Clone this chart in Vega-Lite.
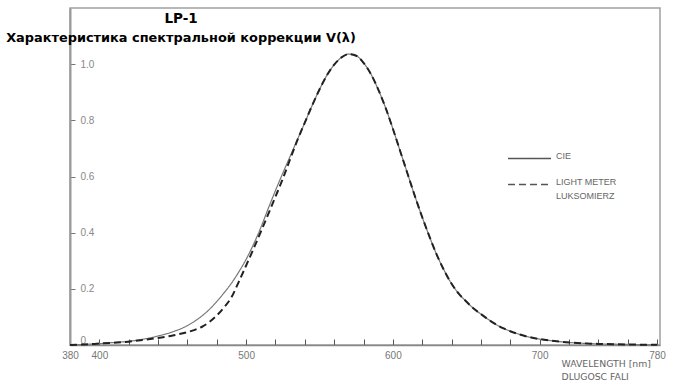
{
  "$schema": "https://vega.github.io/schema/vega-lite/v6.json",
  "width": 590,
  "height": 337,
  "autosize": {"type": "none"},
  "padding": {"left": 70, "top": 8, "right": 14, "bottom": 45},
  "background": "white",
  "config": {
    "view": {"stroke": "#a0a0a0", "strokeWidth": 1.5},
    "font": "Liberation Sans"
  },
  "title": {
    "text": "LP-1",
    "subtitle": "Характеристика спектральной коррекции V(λ)",
    "anchor": "middle",
    "dx": -184,
    "offset": -37,
    "font": "DejaVu Sans",
    "fontSize": 13.5,
    "fontWeight": "bold",
    "color": "black",
    "subtitleFont": "DejaVu Sans",
    "subtitleFontSize": 12.9,
    "subtitleFontWeight": "bold",
    "subtitleColor": "black",
    "subtitlePadding": 7
  },
  "data": {
    "values": [
      {"wl": 380, "v": 0, "series": "CIE"},
      {"wl": 390, "v": 0.002, "series": "CIE"},
      {"wl": 400, "v": 0.005, "series": "CIE"},
      {"wl": 410, "v": 0.009, "series": "CIE"},
      {"wl": 420, "v": 0.013, "series": "CIE"},
      {"wl": 430, "v": 0.021, "series": "CIE"},
      {"wl": 440, "v": 0.032, "series": "CIE"},
      {"wl": 450, "v": 0.047, "series": "CIE"},
      {"wl": 460, "v": 0.069, "series": "CIE"},
      {"wl": 465, "v": 0.085, "series": "CIE"},
      {"wl": 470, "v": 0.104, "series": "CIE"},
      {"wl": 475, "v": 0.127, "series": "CIE"},
      {"wl": 480, "v": 0.155, "series": "CIE"},
      {"wl": 485, "v": 0.186, "series": "CIE"},
      {"wl": 490, "v": 0.22, "series": "CIE"},
      {"wl": 495, "v": 0.26, "series": "CIE"},
      {"wl": 500, "v": 0.305, "series": "CIE"},
      {"wl": 505, "v": 0.358, "series": "CIE"},
      {"wl": 510, "v": 0.418, "series": "CIE"},
      {"wl": 515, "v": 0.485, "series": "CIE"},
      {"wl": 520, "v": 0.55, "series": "CIE"},
      {"wl": 525, "v": 0.612, "series": "CIE"},
      {"wl": 530, "v": 0.672, "series": "CIE"},
      {"wl": 535, "v": 0.732, "series": "CIE"},
      {"wl": 540, "v": 0.792, "series": "CIE"},
      {"wl": 545, "v": 0.853, "series": "CIE"},
      {"wl": 550, "v": 0.91, "series": "CIE"},
      {"wl": 555, "v": 0.96, "series": "CIE"},
      {"wl": 560, "v": 0.998, "series": "CIE"},
      {"wl": 565, "v": 1.024, "series": "CIE"},
      {"wl": 570, "v": 1.036, "series": "CIE"},
      {"wl": 575, "v": 1.03, "series": "CIE"},
      {"wl": 580, "v": 1.005, "series": "CIE"},
      {"wl": 585, "v": 0.965, "series": "CIE"},
      {"wl": 590, "v": 0.91, "series": "CIE"},
      {"wl": 595, "v": 0.845, "series": "CIE"},
      {"wl": 600, "v": 0.77, "series": "CIE"},
      {"wl": 605, "v": 0.69, "series": "CIE"},
      {"wl": 610, "v": 0.61, "series": "CIE"},
      {"wl": 615, "v": 0.53, "series": "CIE"},
      {"wl": 620, "v": 0.455, "series": "CIE"},
      {"wl": 625, "v": 0.385, "series": "CIE"},
      {"wl": 630, "v": 0.32, "series": "CIE"},
      {"wl": 635, "v": 0.265, "series": "CIE"},
      {"wl": 640, "v": 0.218, "series": "CIE"},
      {"wl": 645, "v": 0.182, "series": "CIE"},
      {"wl": 650, "v": 0.155, "series": "CIE"},
      {"wl": 655, "v": 0.13, "series": "CIE"},
      {"wl": 660, "v": 0.11, "series": "CIE"},
      {"wl": 665, "v": 0.091, "series": "CIE"},
      {"wl": 670, "v": 0.074, "series": "CIE"},
      {"wl": 675, "v": 0.06, "series": "CIE"},
      {"wl": 680, "v": 0.049, "series": "CIE"},
      {"wl": 685, "v": 0.04, "series": "CIE"},
      {"wl": 690, "v": 0.032, "series": "CIE"},
      {"wl": 700, "v": 0.021, "series": "CIE"},
      {"wl": 710, "v": 0.014, "series": "CIE"},
      {"wl": 720, "v": 0.009, "series": "CIE"},
      {"wl": 730, "v": 0.006, "series": "CIE"},
      {"wl": 740, "v": 0.004, "series": "CIE"},
      {"wl": 750, "v": 0.003, "series": "CIE"},
      {"wl": 760, "v": 0.002, "series": "CIE"},
      {"wl": 770, "v": 0.001, "series": "CIE"},
      {"wl": 780, "v": 0.0005, "series": "CIE"},
      {"wl": 380, "v": 0, "series": "LIGHT METER"},
      {"wl": 390, "v": 0.002, "series": "LIGHT METER"},
      {"wl": 400, "v": 0.005, "series": "LIGHT METER"},
      {"wl": 410, "v": 0.008, "series": "LIGHT METER"},
      {"wl": 420, "v": 0.012, "series": "LIGHT METER"},
      {"wl": 430, "v": 0.018, "series": "LIGHT METER"},
      {"wl": 440, "v": 0.025, "series": "LIGHT METER"},
      {"wl": 450, "v": 0.034, "series": "LIGHT METER"},
      {"wl": 460, "v": 0.046, "series": "LIGHT METER"},
      {"wl": 465, "v": 0.054, "series": "LIGHT METER"},
      {"wl": 470, "v": 0.065, "series": "LIGHT METER"},
      {"wl": 475, "v": 0.082, "series": "LIGHT METER"},
      {"wl": 480, "v": 0.105, "series": "LIGHT METER"},
      {"wl": 485, "v": 0.134, "series": "LIGHT METER"},
      {"wl": 490, "v": 0.17, "series": "LIGHT METER"},
      {"wl": 495, "v": 0.225, "series": "LIGHT METER"},
      {"wl": 500, "v": 0.283, "series": "LIGHT METER"},
      {"wl": 505, "v": 0.342, "series": "LIGHT METER"},
      {"wl": 510, "v": 0.403, "series": "LIGHT METER"},
      {"wl": 515, "v": 0.465, "series": "LIGHT METER"},
      {"wl": 520, "v": 0.528, "series": "LIGHT METER"},
      {"wl": 525, "v": 0.592, "series": "LIGHT METER"},
      {"wl": 530, "v": 0.662, "series": "LIGHT METER"},
      {"wl": 535, "v": 0.73, "series": "LIGHT METER"},
      {"wl": 540, "v": 0.792, "series": "LIGHT METER"},
      {"wl": 545, "v": 0.853, "series": "LIGHT METER"},
      {"wl": 550, "v": 0.91, "series": "LIGHT METER"},
      {"wl": 555, "v": 0.96, "series": "LIGHT METER"},
      {"wl": 560, "v": 0.998, "series": "LIGHT METER"},
      {"wl": 565, "v": 1.024, "series": "LIGHT METER"},
      {"wl": 570, "v": 1.036, "series": "LIGHT METER"},
      {"wl": 575, "v": 1.03, "series": "LIGHT METER"},
      {"wl": 580, "v": 1.005, "series": "LIGHT METER"},
      {"wl": 585, "v": 0.965, "series": "LIGHT METER"},
      {"wl": 590, "v": 0.91, "series": "LIGHT METER"},
      {"wl": 595, "v": 0.845, "series": "LIGHT METER"},
      {"wl": 600, "v": 0.77, "series": "LIGHT METER"},
      {"wl": 605, "v": 0.69, "series": "LIGHT METER"},
      {"wl": 610, "v": 0.61, "series": "LIGHT METER"},
      {"wl": 615, "v": 0.53, "series": "LIGHT METER"},
      {"wl": 620, "v": 0.455, "series": "LIGHT METER"},
      {"wl": 625, "v": 0.385, "series": "LIGHT METER"},
      {"wl": 630, "v": 0.32, "series": "LIGHT METER"},
      {"wl": 635, "v": 0.265, "series": "LIGHT METER"},
      {"wl": 640, "v": 0.218, "series": "LIGHT METER"},
      {"wl": 645, "v": 0.182, "series": "LIGHT METER"},
      {"wl": 650, "v": 0.155, "series": "LIGHT METER"},
      {"wl": 655, "v": 0.13, "series": "LIGHT METER"},
      {"wl": 660, "v": 0.11, "series": "LIGHT METER"},
      {"wl": 665, "v": 0.091, "series": "LIGHT METER"},
      {"wl": 670, "v": 0.074, "series": "LIGHT METER"},
      {"wl": 675, "v": 0.06, "series": "LIGHT METER"},
      {"wl": 680, "v": 0.049, "series": "LIGHT METER"},
      {"wl": 685, "v": 0.04, "series": "LIGHT METER"},
      {"wl": 690, "v": 0.032, "series": "LIGHT METER"},
      {"wl": 700, "v": 0.021, "series": "LIGHT METER"},
      {"wl": 710, "v": 0.014, "series": "LIGHT METER"},
      {"wl": 720, "v": 0.009, "series": "LIGHT METER"},
      {"wl": 730, "v": 0.006, "series": "LIGHT METER"},
      {"wl": 740, "v": 0.004, "series": "LIGHT METER"},
      {"wl": 750, "v": 0.003, "series": "LIGHT METER"},
      {"wl": 760, "v": 0.002, "series": "LIGHT METER"},
      {"wl": 770, "v": 0.001, "series": "LIGHT METER"},
      {"wl": 780, "v": 0.0005, "series": "LIGHT METER"}
    ]
  },
  "encoding": {
    "x": {
      "field": "wl",
      "type": "quantitative",
      "scale": {"domain": [380, 782], "nice": false, "zero": false},
      "axis": {
        "values": [380, 400, 420, 440, 460, 480, 500, 520, 540, 560, 580, 600, 620, 640, 660, 680, 700, 720, 740, 760, 780],
        "labelExpr": "indexof([380, 400, 500, 600, 700, 780], datum.value) >= 0 ? datum.label : ''",
        "grid": false,
        "tickSize": -6,
        "tickColor": "#555",
        "tickWidth": 1,
        "labelPadding": 11,
        "labelFlush": false,
        "labelOverlap": false,
        "labelFont": "Liberation Sans",
        "labelFontSize": 10,
        "labelColor": "#777",
        "domainColor": "#888",
        "domainWidth": 1.5,
        "title": ["WAVELENGTH [nm]", "DLUGOSC FALI"],
        "titleX": 491,
        "titleY": 14,
        "titleAlign": "left",
        "titleBaseline": "top",
        "titleAngle": 0,
        "titleFont": "DejaVu Sans",
        "titleFontSize": 9.3,
        "titleFontWeight": "normal",
        "titleColor": "#666",
        "titleLineHeight": 13
      }
    },
    "y": {
      "field": "v",
      "type": "quantitative",
      "scale": {"domain": [0, 1.2], "nice": false},
      "axis": {
        "values": [0, 0.2, 0.4, 0.6, 0.8, 1.0],
        "labelExpr": "datum.value == 0 ? '0' : format(datum.value, '.1f')",
        "grid": false,
        "tickSize": -5,
        "tickColor": "#777",
        "labelAlign": "left",
        "labelPadding": -5,
        "labelFlush": true,
        "labelFont": "Liberation Sans",
        "labelFontSize": 10,
        "labelColor": "#888",
        "domainColor": "#999",
        "domainWidth": 2,
        "title": null
      }
    },
    "strokeDash": {
      "field": "series",
      "type": "nominal",
      "scale": {"domain": ["CIE", "LIGHT METER"], "range": [[1, 0], [7, 4]]},
      "legend": {
        "orient": "none",
        "legendX": 437,
        "legendY": 128,
        "title": null,
        "symbolType": "stroke",
        "symbolSize": 1850,
        "symbolStrokeWidth": 1.3,
        "symbolStrokeColor": "#555",
        "labelExpr": "datum.label == 'CIE' ? 'CIE' : ['LIGHT METER', 'LUKSOMIERZ']",
        "labelBaseline": "alphabetic",
        "labelFont": "Liberation Sans",
        "labelFontSize": 9,
        "labelColor": "#666",
        "rowPadding": 0,
        "encode": {"labels": {"update": {"lineHeight": {"value": 14}}}}
      }
    }
  },
  "layer": [
    {
      "transform": [{"filter": "datum.series == 'CIE'"}],
      "mark": {"type": "line", "interpolate": "monotone", "color": "#777777", "strokeWidth": 1.2}
    },
    {
      "transform": [{"filter": "datum.series == 'LIGHT METER'"}],
      "mark": {"type": "line", "interpolate": "monotone", "color": "#222222", "strokeWidth": 2}
    }
  ]
}
